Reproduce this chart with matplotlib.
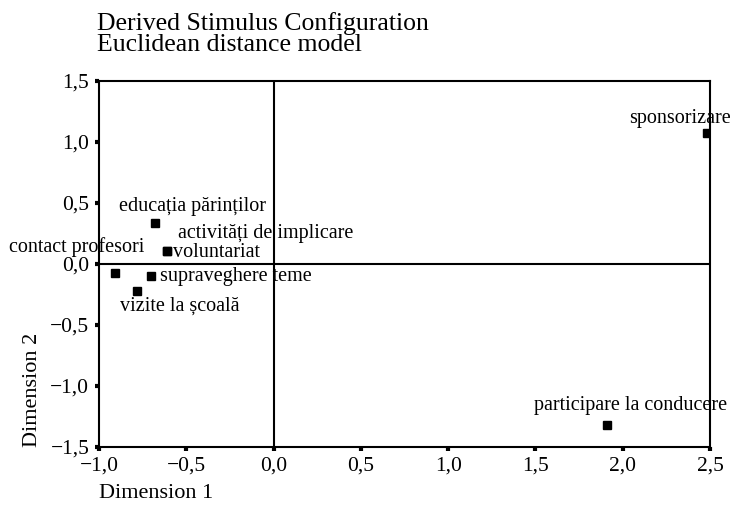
import matplotlib
matplotlib.use("Agg")
import matplotlib.pyplot as plt

labels = ["educația părinților", "activități de implicare", "voluntariat",
          "contact profesori", "supraveghere teme", "vizite la școală",
          "sponsorizare", "participare la conducere"]
dim1 = [-0.68, -0.61, -0.61, -0.91, -0.70, -0.78, 2.48, 1.91]
dim2 = [0.34, 0.11, 0.11, -0.07, -0.10, -0.22, 1.07, -1.32]

xticks = [-1.0, -0.5, 0.0, 0.5, 1.0, 1.5, 2.0, 2.5]
yticks = [-1.5, -1.0, -0.5, 0.0, 0.5, 1.0, 1.5]

# label placement: (dx px, dy px, ha)
offsets = [(38, 16, "center"), (11, 17, "left"), (6, -2, "left"),
           (-38, 25, "center"), (9, 0, "left"), (42, -15, "center"),
           (-27, 15, "center"), (24, 20, "center")]

plt.rcParams['font.family'] = ['Liberation Serif', 'DejaVu Serif']

fig = plt.figure(figsize=(7.32, 5.12), dpi=100)
ax = fig.add_axes([99/732, 1-447/512, (710-99)/732, (447-81)/512])

ax.axhline(0, color='black', lw=1.5, zorder=1)
ax.axvline(0, color='black', lw=1.5, zorder=1)
ax.plot(dim1, dim2, 's', color='black', markersize=6, zorder=3)

for lab, x, y, (dx, dy, ha) in zip(labels, dim1, dim2, offsets):
    ax.annotate(lab, (x, y), xytext=(dx, dy), textcoords='offset pixels',
                ha=ha, va='center', fontsize=14.5, color='black')

ax.set_xlim(-1.0, 2.5)
ax.set_ylim(-1.5, 1.5)
ax.set_xticks(xticks)
ax.set_yticks(yticks)
fmt = lambda v: f"{v:.1f}".replace('.', ',').replace('-', '\u2212')
ax.set_xticklabels([fmt(v) for v in xticks])
ax.set_yticklabels([fmt(v) for v in yticks])
ax.tick_params(direction='out', length=3, width=3, labelsize=15.5, pad=4, color='black')
for s in ax.spines.values():
    s.set_linewidth(1.5)

ax.set_xlabel("Dimension 1", loc='left', fontsize=16, labelpad=6)
ax.set_ylabel("Dimension 2", loc='bottom', fontsize=16, labelpad=6)

fig.text(97/732, 1-30/512, "Derived Stimulus Configuration", fontsize=18.5, ha='left', va='baseline')
fig.text(97/732, 1-51/512, "Euclidean distance model", fontsize=18.5, ha='left', va='baseline')

fig.savefig("out.png", dpi=100)
